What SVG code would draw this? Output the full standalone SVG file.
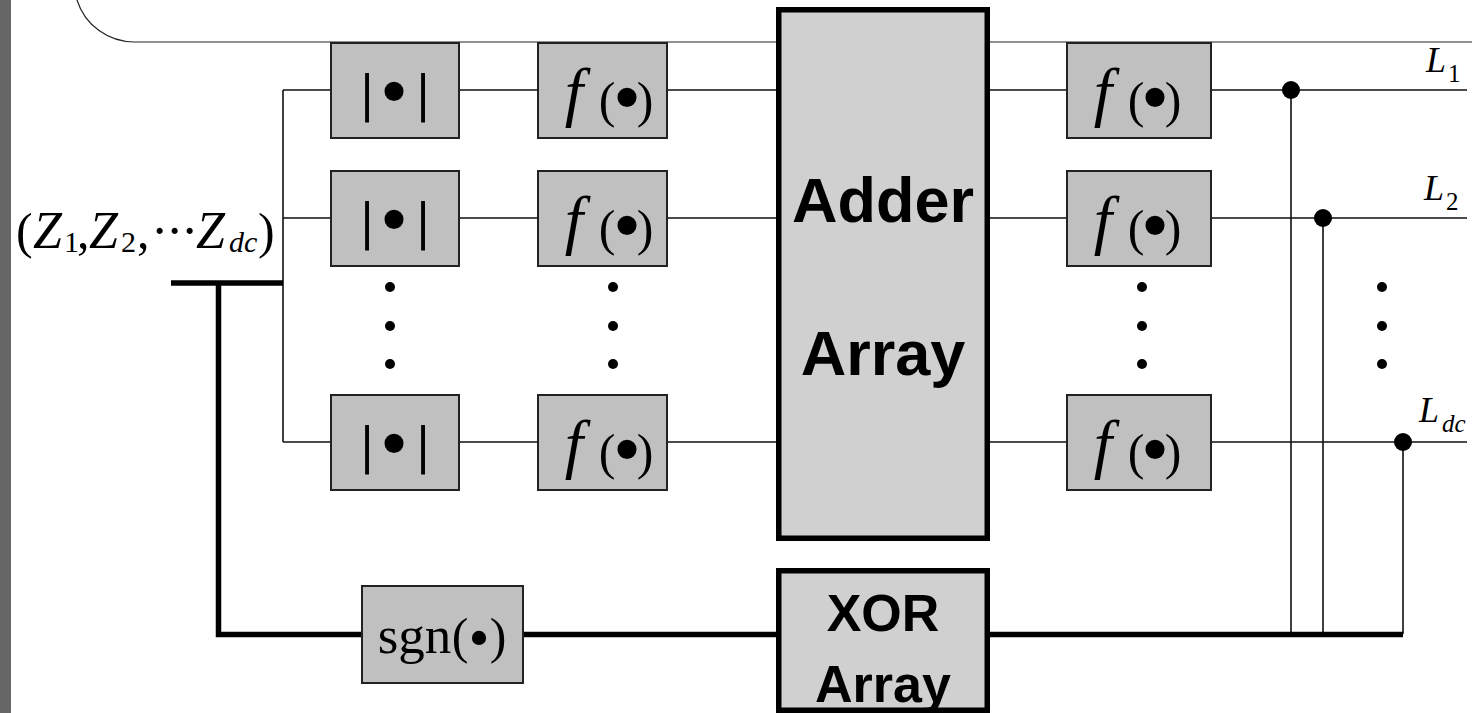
<svg xmlns="http://www.w3.org/2000/svg" width="1472" height="713" viewBox="0 0 1472 713">
  <style>
    .wire { stroke: #111; stroke-width: 1.6; fill: none; }
    .bus { stroke: #000; stroke-width: 5.5; fill: none; stroke-linecap: butt; }
    .blk { fill: #c0c0c0; stroke: #222; stroke-width: 2; }
    .arr { fill: #d0d0d0; stroke: #000; stroke-width: 5.5; }
    .m { font-family: "Liberation Serif", "Times New Roman", serif; fill: #000; }
    .c { text-anchor: middle; }
    .it { font-style: italic; }
    .lbl { font-family: "Liberation Sans", Arial, sans-serif; font-weight: bold; fill: #000; text-anchor: middle; }
    .dot { fill: #000; }
  </style>
  <defs>
    <!-- magnitude block |•| -->
    <g id="absBlk">
      <rect class="blk" x="331" y="43" width="128" height="95"/>
      <text class="m c"><tspan x="367" y="111" font-size="53" stroke="#000" stroke-width="1.2">|</tspan><tspan x="394" y="118" font-size="80">•</tspan><tspan x="423" y="111" font-size="53" stroke="#000" stroke-width="1.2">|</tspan></text>
    </g>
    <!-- nonlinearity block f(•), left column -->
    <g id="fBlk">
      <rect class="blk" x="538" y="43" width="129" height="95"/>
      <text class="m c"><tspan class="it" x="574" y="114" font-size="66">f</tspan><tspan x="607" y="117" font-size="50">(</tspan><tspan x="627" y="124" font-size="80">•</tspan><tspan x="645" y="117" font-size="50">)</tspan></text>
    </g>
    <!-- nonlinearity block f(•), right column -->
    <g id="fBlkR">
      <rect class="blk" x="1067" y="43" width="144" height="95"/>
      <text class="m c"><tspan class="it" x="1103" y="114" font-size="66">f</tspan><tspan x="1136" y="117" font-size="50">(</tspan><tspan x="1155" y="124" font-size="80">•</tspan><tspan x="1173" y="117" font-size="50">)</tspan></text>
    </g>
  </defs>

  <!-- frame pieces -->
  <rect x="0" y="0" width="11" height="713" fill="#666"/>
  <path d="M77,0 A60,60 0 0 0 135,42 L1472,42" stroke="#222" stroke-width="1.2" fill="none"/>

  <!-- connectors -->
  <g id="connectors">
    <!-- input fan-out -->
    <path class="wire" d="M283,90 V442 M283,90 H331 M283,218 H331 M283,442 H331"/>
    <!-- |•| to f(•) -->
    <path class="wire" d="M459,90 H538 M459,218 H538 M459,442 H538"/>
    <!-- f(•) to adder -->
    <path class="wire" d="M667,90 H776 M667,218 H776 M667,442 H776"/>
    <!-- adder to f(•) -->
    <path class="wire" d="M990,90 H1067 M990,218 H1067 M990,442 H1067"/>
    <!-- outputs -->
    <path class="wire" d="M1211,90 H1467 M1211,218 H1467 M1211,442 H1467"/>
    <!-- sign feedback taps -->
    <path class="wire" d="M1291,90 V634 M1323,218 V634 M1403,442 V634"/>
    <circle class="dot" cx="1291" cy="90" r="9"/>
    <circle class="dot" cx="1323" cy="218" r="9"/>
    <circle class="dot" cx="1403" cy="442" r="9"/>
    <!-- sign path bus -->
    <path class="bus" d="M171,283 H283 M218.5,283 V634.5 H362"/>
    <path class="bus" d="M523,634.5 H776"/>
    <path class="bus" d="M990,634.5 H1403"/>
  </g>

  <!-- input label -->
  <g id="input">
    <text class="m"><tspan x="16" y="248" font-size="50">(</tspan><tspan class="it" x="33" y="248" font-size="52">Z</tspan><tspan x="64" y="252" font-size="30">1</tspan><tspan x="77" y="248" font-size="50">,</tspan><tspan class="it" x="89" y="248" font-size="52">Z</tspan><tspan x="121" y="252" font-size="30">2</tspan><tspan x="137" y="248" font-size="50">,</tspan><tspan x="151" y="248" font-size="52">·</tspan><tspan x="166" y="248" font-size="52">·</tspan><tspan x="181" y="248" font-size="52">·</tspan><tspan class="it" x="196" y="248" font-size="52">Z</tspan><tspan class="it" x="229" y="252" font-size="30">dc</tspan><tspan x="258" y="248" font-size="50">)</tspan></text>
  </g>

  <!-- magnitude column -->
  <g id="abs1"><use href="#absBlk"/></g>
  <g id="abs2"><use href="#absBlk" y="128"/></g>
  <g id="absN"><use href="#absBlk" y="352"/></g>
  <g id="absDots">
    <circle class="dot" cx="390" cy="287" r="5"/><circle class="dot" cx="390" cy="326" r="5"/><circle class="dot" cx="390" cy="364" r="5"/>
  </g>

  <!-- f column (left) -->
  <g id="f1"><use href="#fBlk"/></g>
  <g id="f2"><use href="#fBlk" y="128"/></g>
  <g id="fN"><use href="#fBlk" y="352"/></g>
  <g id="fDots">
    <circle class="dot" cx="613" cy="287" r="5"/><circle class="dot" cx="613" cy="326" r="5"/><circle class="dot" cx="613" cy="364" r="5"/>
  </g>

  <!-- adder array -->
  <g id="adder">
    <rect class="arr" x="778.75" y="9.75" width="208.5" height="528.5"/>
    <text class="lbl" x="883" y="222" font-size="63">Adder</text>
    <text class="lbl" x="883" y="375" font-size="63">Array</text>
  </g>

  <!-- f column (right) -->
  <g id="g1"><use href="#fBlkR"/></g>
  <g id="g2"><use href="#fBlkR" y="128"/></g>
  <g id="gN"><use href="#fBlkR" y="352"/></g>
  <g id="gDots">
    <circle class="dot" cx="1142" cy="287" r="5"/><circle class="dot" cx="1142" cy="326" r="5"/><circle class="dot" cx="1142" cy="364" r="5"/>
  </g>

  <!-- outputs -->
  <g id="out1"><text class="m"><tspan class="it" x="1426" y="72" font-size="36">L</tspan><tspan x="1448" y="82" font-size="25">1</tspan></text></g>
  <g id="out2"><text class="m"><tspan class="it" x="1424" y="200" font-size="36">L</tspan><tspan x="1446" y="210" font-size="25">2</tspan></text></g>
  <g id="outN"><text class="m"><tspan class="it" x="1419" y="422" font-size="36">L</tspan><tspan class="it" x="1442" y="432" font-size="25">dc</tspan></text></g>
  <g id="outDots">
    <circle class="dot" cx="1382" cy="287" r="5"/><circle class="dot" cx="1382" cy="326" r="5"/><circle class="dot" cx="1382" cy="364" r="5"/>
  </g>

  <!-- sign block -->
  <g id="sgn">
    <rect class="blk" x="362" y="586" width="161" height="97"/>
    <text class="m c"><tspan x="414.5" y="653" font-size="53">sgn</tspan><tspan x="460" y="653" font-size="50">(</tspan><tspan x="479" y="658" font-size="60">•</tspan><tspan x="498" y="653" font-size="50">)</tspan></text>
  </g>

  <!-- XOR array -->
  <g id="xor">
    <rect class="arr" x="778.75" y="570.75" width="208.5" height="139.5"/>
    <text class="lbl" x="883" y="631" font-size="52">XOR</text>
    <text class="lbl" x="883" y="702" font-size="52">Array</text>
  </g>
</svg>
